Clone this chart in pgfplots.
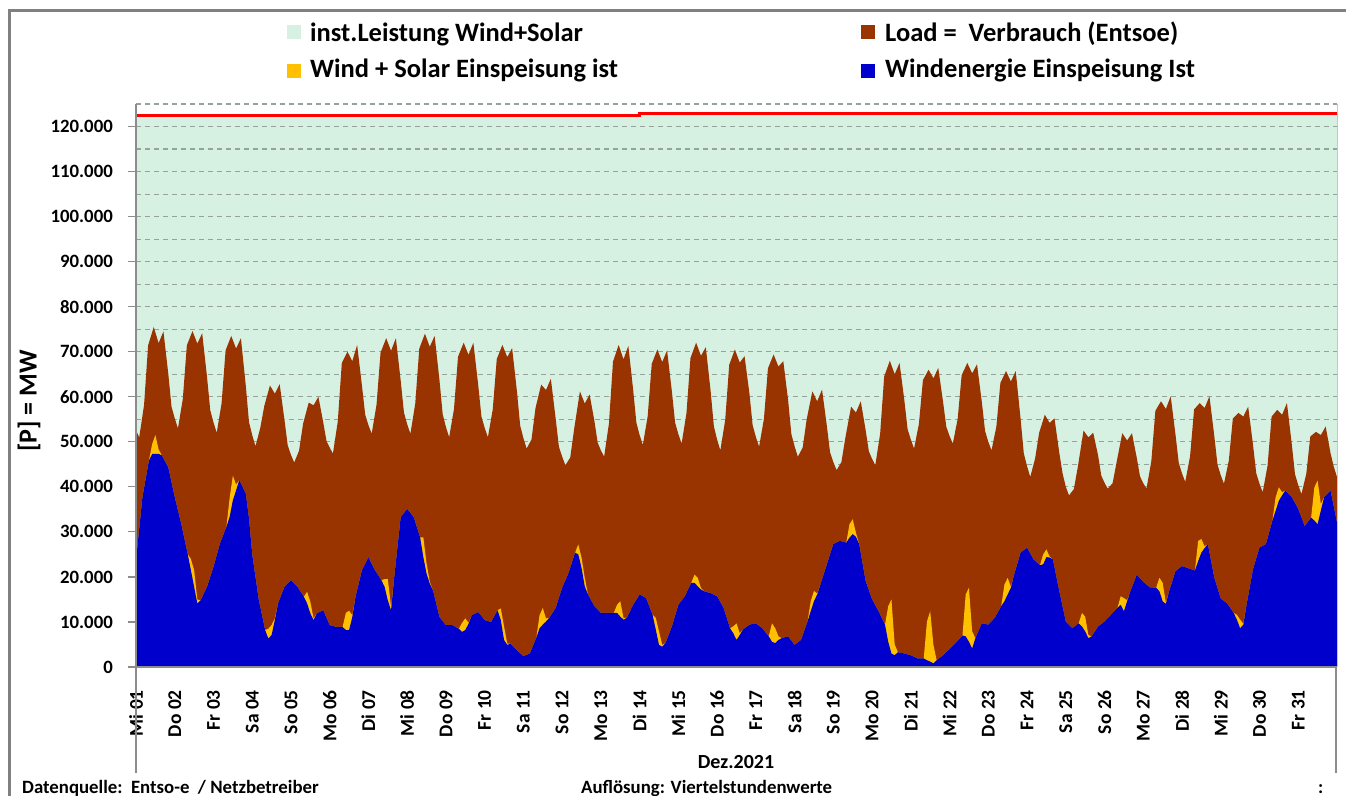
\documentclass[border=0pt]{standalone}
\usepackage{fontspec}
\setmainfont{Carlito}
\usepackage{pgfplots}
\usepackage{pgfplotstable}
\pgfplotsset{compat=1.18}

\definecolor{instGreen}{RGB}{214,241,226}
\definecolor{loadBrown}{RGB}{153,51,0}
\definecolor{solarYellow}{RGB}{255,192,0}
\definecolor{windBlue}{RGB}{0,0,204}
\definecolor{gridGray}{RGB}{150,162,156}
\definecolor{axisGray}{RGB}{140,140,140}
\definecolor{frameGray}{RGB}{128,128,128}

% Verbrauch (Entsoe), MW, x in Tagen ab 01.12. 00:00
\pgfplotstableread{
x y
0.0000 52500
0.0833 51000
0.2083 58200
0.3125 71400
0.4583 75500
0.5833 71900
0.7083 74500
0.8333 65100
0.9167 57800
1.0000 55200
1.0833 53000
1.2083 59500
1.3125 71400
1.4583 74600
1.5833 71800
1.7083 74100
1.8333 64400
1.9167 57000
2.0000 54300
2.0833 52000
2.2083 58500
2.3125 70300
2.4583 73500
2.5833 70700
2.7083 73000
2.8333 62500
2.9167 54400
3.0000 51500
3.0833 49000
3.2083 53100
3.3125 58000
3.4583 62500
3.5833 60700
3.7083 62800
3.8333 54800
3.9167 49200
4.0000 47100
4.0833 45400
4.2083 48000
4.3125 54000
4.4583 58700
4.5833 58100
4.7083 60000
4.8333 54300
4.9167 50200
5.0000 48700
5.0833 47400
5.2083 54500
5.3125 67500
5.4583 70000
5.5833 67900
5.7083 71500
5.8333 62400
5.9167 56000
6.0000 53700
6.0833 51800
6.2083 58200
6.3125 69800
6.4583 73000
6.5833 70200
6.7083 73000
6.8333 63500
6.9167 56500
7.0000 53900
7.0833 51800
7.2083 58500
7.3125 70700
7.4583 74000
7.5833 71100
7.7083 73500
7.8333 63700
7.9167 56100
8.0000 53300
8.0833 51000
8.2083 57300
8.3125 68900
8.4583 72000
8.5833 69300
8.7083 72000
8.8333 62600
8.9167 55600
9.0000 53100
9.0833 51000
9.2083 57200
9.3125 68400
9.4583 71500
9.5833 68800
9.7083 70800
9.8333 61200
9.9167 53600
10.0000 50800
10.0833 48500
10.2083 50500
10.3125 57500
10.4583 62700
10.5833 61500
10.7083 64000
10.8333 55100
10.9167 48900
11.0000 46700
11.0833 44800
11.2083 46500
11.3125 53000
11.4583 61200
11.5833 58500
11.7083 60500
11.8333 54600
11.9167 49800
12.0000 48100
12.0833 46700
12.2083 54100
12.3125 67800
12.4583 71500
12.5833 68300
12.7083 71300
12.8333 61500
12.9167 54200
13.0000 51500
13.0833 49300
13.2083 55700
13.3125 67300
13.4583 70500
13.5833 67700
13.7083 70300
13.8333 61100
13.9167 54200
14.0000 51700
14.0833 49600
14.2083 56300
14.3125 68600
14.4583 72000
14.5833 69100
14.7083 71000
14.8333 61200
14.9167 53400
15.0000 50500
15.0833 48100
15.2083 54800
15.3125 67100
15.4583 70500
15.5833 67600
15.7083 69000
15.8333 60800
15.9167 53700
16.0000 51100
16.0833 48900
16.2083 55100
16.3125 66300
16.4583 69400
16.5833 66700
16.7083 67900
16.8333 59200
16.9167 51700
17.0000 49000
17.0833 46700
17.2083 48700
17.3125 55000
17.4583 61200
17.5833 59000
17.7083 61600
17.8333 53500
17.9167 47600
18.0000 45500
18.0833 43700
18.2083 45500
18.3125 51000
18.4583 57800
18.5833 56500
18.7083 59000
18.8333 52600
18.9167 47900
19.0000 46200
19.0833 44800
19.2083 51800
19.3125 64500
19.4583 68000
19.5833 65000
19.7083 67500
19.8333 59200
19.9167 52800
20.0000 50500
20.0833 48500
20.2083 53900
20.3125 63700
20.4583 66000
20.5833 64100
20.7083 66400
20.8333 58800
20.9167 53300
21.0000 51300
21.0833 49600
21.2083 55000
21.3125 64800
21.4583 67500
21.5833 65200
21.7083 67200
21.8333 58800
21.9167 52400
22.0000 50000
22.0833 48100
22.2083 53400
22.3125 63100
22.4583 65700
22.5833 63400
22.7083 65700
22.8333 55100
22.9167 47400
23.0000 44600
23.0833 42200
23.2083 46300
23.3125 52000
23.4583 56000
23.5833 54200
23.7083 55200
23.8333 47500
23.9167 43000
24.0000 40000
24.0833 38100
24.2083 39500
24.3125 44500
24.4583 52500
24.5833 51000
24.7083 52000
24.8333 47000
24.9167 42500
25.0000 40900
25.0833 39600
25.2083 40800
25.3125 45500
25.4583 51900
25.5833 50300
25.7083 51900
25.8333 46400
25.9167 42300
26.0000 40800
26.0833 39600
26.2083 45700
26.3125 56900
26.4583 59000
26.5833 57300
26.7083 60100
26.8333 51500
26.9167 45300
27.0000 43000
27.0833 41100
27.2083 46800
27.3125 57200
27.4583 58600
27.5833 57500
27.7083 60100
27.8333 51300
27.9167 44900
28.0000 42600
28.0833 40700
28.2083 45800
28.3125 55200
28.4583 56400
28.5833 55600
28.7083 57800
28.8333 49300
28.9167 43000
29.0000 40700
29.0833 38800
29.2083 44700
29.3125 55600
29.4583 57100
29.5833 56000
29.7083 58600
29.8333 49500
29.9167 42800
30.0000 40400
30.0833 38400
30.2083 42900
30.3125 51200
30.4583 52200
30.5833 51500
30.7083 53400
30.8333 47500
30.9167 44500
31.0000 42200
}\loadtable

% Wind (w) und Wind + Solar (ws), MW
\pgfplotstableread{
x w ws
0.0000 23700 23700
0.1667 37700 37700
0.3333 45800 45800
0.4167 47300 49500
0.5000 47300 51500
0.5833 47300 48300
0.6667 47000 47000
0.8333 44300 44300
1.0000 37700 37700
1.1667 31800 31800
1.3333 25100 25100
1.4167 21500 24000
1.5000 17800 21500
1.5833 14100 15000
1.6667 14800 14800
1.8333 17800 17800
2.0000 22200 22200
2.1667 27400 27400
2.3333 31100 31100
2.4167 33300 37500
2.5000 37000 42500
2.5833 39200 40500
2.6667 41500 41500
2.8333 38500 38500
2.9167 33000 33000
3.0000 25000 25000
3.1667 15000 15000
3.3333 8200 8200
3.4167 6300 8500
3.5000 7100 9300
3.5833 10400 10800
3.6667 14100 14100
3.8333 17800 17800
4.0000 19300 19300
4.1667 17800 17800
4.3333 15600 15600
4.4167 14100 16700
4.5000 11900 14500
4.5833 10400 10800
4.6667 11900 11900
4.8333 12600 12600
5.0000 9300 9300
5.1667 8900 8900
5.3333 8900 8900
5.4167 8200 12000
5.5000 8200 12500
5.5833 11100 11500
5.6667 15600 15600
5.8333 21500 21500
6.0000 24400 24400
6.1667 21500 21500
6.3333 19300 19300
6.4167 17800 19500
6.5000 14800 19500
6.5833 12600 13300
6.6667 20000 20000
6.8333 33300 33300
7.0000 35100 35100
7.1667 33300 33300
7.3333 28800 28800
7.4167 24400 28800
7.5000 20700 23000
7.5833 18500 18900
7.6667 17000 17000
7.8333 11100 11100
8.0000 9300 9300
8.1667 9300 9300
8.3333 8500 8500
8.4167 7800 9800
8.5000 8200 10800
8.5833 9600 9800
8.6667 11500 11500
8.8333 12200 12200
9.0000 10400 10400
9.1667 10000 10000
9.3333 12600 12600
9.4167 10400 13000
9.5000 6000 9000
9.5833 4900 5200
9.6667 5200 5200
9.8333 3700 3700
10.0000 2400 2400
10.1667 3000 3000
10.3333 6500 6500
10.4167 8600 11500
10.5000 9400 13100
10.5833 10100 10800
10.6667 10900 10900
10.8333 13100 13100
11.0000 17600 17600
11.1667 20900 20900
11.3333 25400 25400
11.4167 25000 27200
11.5000 22000 24300
11.5833 17900 19800
11.6667 16100 16100
11.8333 13500 13500
12.0000 12000 12000
12.1667 12000 12000
12.3333 12000 12000
12.4167 12000 13800
12.5000 11200 14600
12.5833 10500 10900
12.6667 10900 10900
12.8333 13800 13800
13.0000 16100 16100
13.1667 15300 15300
13.3333 11600 11600
13.4167 8300 10900
13.5000 4900 7900
13.5833 4500 4900
13.6667 5300 5300
13.8333 9000 9000
14.0000 13800 13800
14.1667 15700 15700
14.3333 18700 18700
14.4167 18700 20500
14.5000 17900 19800
14.5833 17200 17500
14.6667 16800 16800
14.8333 16400 16400
15.0000 15700 15700
15.1667 13100 13100
15.3333 8600 8600
15.4167 7500 9000
15.5000 6000 9700
15.5833 7100 7500
15.6667 8300 8300
15.8333 9400 9400
16.0000 9700 9700
16.1667 8600 8600
16.3333 6800 6800
16.4167 5600 9700
16.5000 5300 8600
16.5833 6000 6800
16.6667 6400 6400
16.8333 6800 6800
17.0000 4900 4900
17.1667 6000 6000
17.3333 10100 10100
17.4167 12400 14600
17.5000 14600 16900
17.5833 16100 16300
17.6667 18300 18300
17.8333 22800 22800
18.0000 27300 27300
18.1667 28000 28000
18.3333 27600 27600
18.4167 28700 31700
18.5000 29500 32800
18.5833 28900 29800
18.6667 27300 27300
18.8333 19100 19100
19.0000 15000 15000
19.1667 12400 12400
19.3333 9400 9400
19.4167 5600 13500
19.5000 3000 15000
19.5833 2600 5000
19.6667 3300 3300
19.8333 3000 3000
20.0000 2600 2600
20.1667 1900 1900
20.3333 1900 1900
20.4167 1500 10100
20.5000 1200 12400
20.5833 800 4900
20.6667 1500 1500
20.8333 2600 2600
21.0000 4000 4000
21.1667 5400 5400
21.3333 7000 7000
21.4167 6800 16100
21.5000 5600 17600
21.5833 4100 7900
21.6667 6400 6400
21.8333 9700 9700
22.0000 9400 9400
22.1667 10900 10900
22.3333 13500 13500
22.4167 14600 18300
22.5000 16100 19800
22.5833 17600 17800
22.6667 20500 20500
22.8333 25400 25400
23.0000 26500 26500
23.1667 23900 23900
23.3333 22600 22600
23.4167 22800 25000
23.5000 24400 26100
23.5833 24300 24500
23.6667 23900 23900
23.8333 16800 16800
24.0000 10100 10100
24.1667 8600 8600
24.3333 9700 9700
24.4167 9000 12000
24.5000 7900 11200
24.5833 6400 7100
24.6667 6800 6800
24.8333 9000 9000
25.0000 10100 10100
25.1667 11600 11600
25.3333 13100 13100
25.4167 13800 15700
25.5000 12400 15300
25.5833 14600 14800
25.6667 16800 16800
25.8333 20500 20500
26.0000 18900 18900
26.1667 17700 17700
26.3333 17600 17600
26.4167 16800 19800
26.5000 14600 18700
26.5833 14000 14300
26.6667 16800 16800
26.8333 21300 21300
27.0000 22400 22400
27.1667 21900 21900
27.3333 21400 21400
27.4167 23500 28000
27.5000 25400 28400
27.5833 26400 26800
27.6667 27300 27300
27.8333 19800 19800
28.0000 15200 15200
28.1667 14100 14100
28.3333 12000 12000
28.4167 10500 11600
28.5000 8600 10500
28.5833 9400 9600
28.6667 13800 13800
28.8333 21700 21700
29.0000 26500 26500
29.1667 27300 27300
29.3333 32500 32500
29.4167 34700 37700
29.5000 36900 39900
29.5833 38100 38800
29.6667 39200 39200
29.8333 37700 37700
30.0000 35100 35100
30.1667 31300 31300
30.3333 33200 33200
30.4167 32500 39900
30.5000 31700 41400
30.5833 34700 36200
30.6667 37700 37700
30.8333 39200 39200
31.0000 32100 32100
}\windtable

\begin{document}
\begin{tikzpicture}
\path[use as bounding box] (0pt,0pt) rectangle (1346pt,795pt);

% Rahmen
\draw[frameGray, line width=3pt] (9pt,-10pt) -- (9pt,784pt) -- (1360pt,784pt);

% installierte Leistung (Hintergrund)
\begin{axis}[
    at={(136pt,128pt)}, anchor=south west,
    width=1201pt, height=563pt, scale only axis,
    xmin=0, xmax=31, ymin=0, ymax=125000,
    axis lines=none, ticks=none,
  ]
  \addplot[fill=instGreen, draw=none, const plot] coordinates {(0,122400) (13,122800) (28,123000) (31,123000)} \closedcycle;
  \addplot[red, line width=3pt, const plot] coordinates {(0,122400) (13,122800) (28,123000) (31,123000)};
\end{axis}

\begin{axis}[
    at={(136pt,128pt)}, anchor=south west,
    width=1201pt, height=563pt, scale only axis,
    xmin=0, xmax=31, ymin=0, ymax=125000,
    axis x line*=bottom, axis y line*=left,
    axis line style={draw=axisGray, line width=1.2pt},
    xtick={0,...,30},
    xticklabels={Mi 01,Do 02,Fr 03,Sa 04,So 05,Mo 06,Di 07,Mi 08,Do 09,Fr 10,Sa 11,So 12,Mo 13,Di 14,Mi 15,Do 16,Fr 17,Sa 18,So 19,Mo 20,Di 21,Mi 22,Do 23,Fr 24,Sa 25,So 26,Mo 27,Di 28,Mi 29,Do 30,Fr 31},
    xticklabel style={rotate=90, anchor=east, inner sep=0pt, font=\fontsize{19.5}{19.5}\selectfont\bfseries},
    xticklabel shift=15pt,
    xtick style={draw=none},
    ytick={0,10000,...,120000},
    minor ytick={5000,15000,...,125000},
    ymajorgrids, yminorgrids,
    major grid style={gridGray, line width=1.1pt, dash pattern=on 5pt off 4pt},
    minor grid style={gridGray, line width=1.1pt, dash pattern=on 5pt off 4pt},
    scaled y ticks=false,
    /pgf/number format/fixed,
    /pgf/number format/1000 sep={.},
    /pgf/number format/assume math mode=true,
    yticklabel style={inner sep=0pt, font=\fontsize{18.8}{18.8}\selectfont\bfseries},
    yticklabel shift=15pt,
    tick align=outside, major tick length=8pt, minor tick length=0pt,
    ytick style={draw=axisGray, line width=1.2pt},
  ]
  \addplot[fill=loadBrown, draw=none] table[x=x, y=y] {\loadtable} \closedcycle;
  \addplot[fill=solarYellow, draw=none] table[x=x, y=ws] {\windtable} \closedcycle;
  \addplot[fill=windBlue, draw=none] table[x=x, y=w] {\windtable} \closedcycle;
\end{axis}

\begin{scope}[x=1pt, y=1pt]
% Achslinien oben drauf
\draw[axisGray, line width=1.2pt] (136,691) -- (136,22);
\draw[axisGray, line width=1.2pt] (136,128) -- (1337,128);
\draw[axisGray, line width=1.2pt] (1336,128) -- (1336,22);
\draw[gray!40!blue!30, line width=1pt] (1337,128) -- (1337,691);

% Legende
\begin{scope}[font=\fontsize{26.5}{26.5}\selectfont\bfseries]
  \fill[instGreen] (287,756) rectangle (301,770);
  \node[anchor=base west, inner sep=0pt] at (310,753) {inst.Leistung Wind+Solar};
  \fill[loadBrown] (861,756) rectangle (875,770);
  \node[anchor=base west, inner sep=0pt] at (885,753) {Load =\ \ Verbrauch (Entsoe)};
  \fill[solarYellow] (287,717) rectangle (301,731);
  \node[anchor=base west, inner sep=0pt] at (310,717) {Wind + Solar Einspeisung ist};
  \fill[windBlue] (861,717) rectangle (875,731);
  \node[anchor=base west, inner sep=0pt] at (885,717) {Windenergie Einspeisung Ist};
\end{scope}

% Achsentitel
\node[rotate=90, font=\fontsize{26}{26}\selectfont\bfseries] at (29,394) {[P] = MW};
\node[font=\fontsize{20}{20}\selectfont\bfseries] at (736,33) {Dez.2021};

% Fusszeile
\begin{scope}[font=\fontsize{18.8}{18.8}\selectfont\bfseries]
  \node[anchor=base west, inner sep=0pt] at (22,2) {Datenquelle:\ \ Entso-e\ \ / Netzbetreiber};
  \node[anchor=base west, inner sep=0pt] at (581,2) {Auflösung: Viertelstundenwerte};
  \node[anchor=base west, inner sep=0pt] at (1318,2) {:};
\end{scope}
\end{scope}
\end{tikzpicture}
\end{document}
